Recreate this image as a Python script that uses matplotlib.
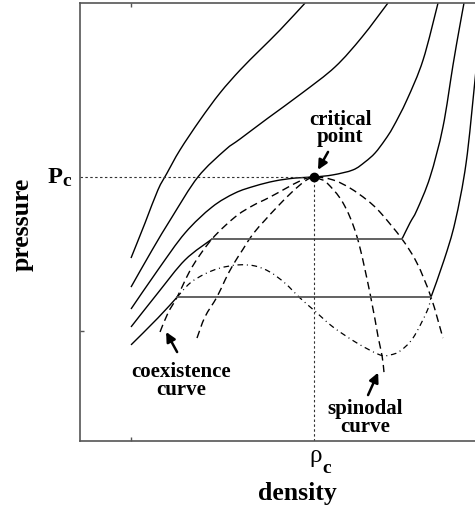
import matplotlib
matplotlib.use("Agg")
import matplotlib.pyplot as plt
from matplotlib.path import Path
from matplotlib.patches import PathPatch

plt.rcParams['font.family'] = ['Liberation Serif', 'DejaVu Serif']

# Reduced units: density / rho_c and pressure / P_c
RHO_C = 1.0
P_C = 1.0

# Supercritical isotherms (highest temperature first)
t1_rho = [0.218, 0.278, 0.333, 0.372, 0.427, 0.513, 0.598, 0.684, 0.769, 0.855, 0.962]
t1_p = [0.693, 0.826, 0.951, 1.015, 1.102, 1.216, 1.318, 1.405, 1.481, 1.557, 1.659]

t2_rho = [0.218, 0.308, 0.393, 0.504, 0.620, 0.684, 0.803, 0.949, 1.090, 1.205, 1.316]
t2_p = [0.583, 0.723, 0.848, 1.000, 1.102, 1.144, 1.223, 1.318, 1.417, 1.530, 1.659]

# Critical isotherm
tc_rho = [0.218, 0.333, 0.449, 0.564, 0.662, 0.748, 0.833, 0.919, 1.000, 1.081,
          1.167, 1.218, 1.261, 1.303, 1.338, 1.397, 1.466, 1.530]
tc_p = [0.500, 0.648, 0.788, 0.886, 0.939, 0.966, 0.985, 0.996, 1.000, 1.008,
        1.027, 1.057, 1.091, 1.140, 1.189, 1.292, 1.443, 1.659]

# Subcritical isotherm 1: gas branch, tie line, liquid branch
t4_gas_rho = [0.218, 0.333, 0.449, 0.564]
t4_gas_p = [0.432, 0.561, 0.686, 0.765]
t4_liq_rho = [1.376, 1.410, 1.440, 1.496, 1.551, 1.594, 1.620, 1.641]
t4_liq_p = [0.765, 0.826, 0.875, 1.000, 1.189, 1.424, 1.557, 1.659]
t4_tie_rho = [0.564, 1.376]
t4_tie_p = [0.765, 0.765]

# Subcritical isotherm 2
t5_gas_rho = [0.218, 0.333, 0.415]
t5_gas_p = [0.364, 0.466, 0.545]
t5_liq_rho = [1.500, 1.556, 1.603, 1.650, 1.688, 1.705]
t5_liq_p = [0.545, 0.686, 0.830, 1.053, 1.367, 1.519]
t5_tie_rho = [0.415, 1.500]
t5_tie_p = [0.545, 0.545]

# Van der Waals loop of subcritical isotherm 2
loop_rho = [0.415, 0.470, 0.534, 0.598, 0.675, 0.748, 0.812, 0.876, 0.940, 1.004,
            1.081, 1.184, 1.282, 1.325, 1.368, 1.423, 1.483, 1.500]
loop_p = [0.545, 0.598, 0.633, 0.655, 0.667, 0.663, 0.640, 0.598, 0.542, 0.492,
          0.432, 0.371, 0.326, 0.326, 0.341, 0.390, 0.492, 0.545]

# Coexistence curve
coex_rho = [0.342, 0.376, 0.415, 0.479, 0.564, 0.662, 0.735, 0.812, 0.940, 1.000,
            1.081, 1.154, 1.226, 1.282, 1.376, 1.440, 1.500, 1.551]
coex_p = [0.413, 0.485, 0.545, 0.659, 0.765, 0.848, 0.890, 0.924, 0.985, 1.000,
          0.989, 0.958, 0.913, 0.867, 0.765, 0.674, 0.545, 0.390]

# Spinodal curve
spin_rho = [0.500, 0.534, 0.585, 0.620, 0.654, 0.697, 0.739, 0.791, 0.842, 0.906,
            0.962, 1.000, 1.026, 1.056, 1.124, 1.184, 1.239, 1.274, 1.291, 1.299]
spin_p = [0.390, 0.470, 0.545, 0.610, 0.667, 0.727, 0.784, 0.837, 0.886, 0.943,
          0.985, 1.000, 0.992, 0.977, 0.902, 0.773, 0.561, 0.394, 0.322, 0.261]


def smooth_path(xs, ys):
    """Catmull-Rom curve through the given points, as cubic Bezier segments."""
    pts = list(zip(xs, ys))
    n = len(pts)
    verts = [pts[0]]
    codes = [Path.MOVETO]
    for i in range(n - 1):
        p0 = pts[i - 1] if i > 0 else pts[i]
        p1 = pts[i]
        p2 = pts[i + 1]
        p3 = pts[i + 2] if i + 2 < n else pts[i + 1]
        c1 = (p1[0] + (p2[0] - p0[0]) / 6, p1[1] + (p2[1] - p0[1]) / 6)
        c2 = (p2[0] - (p3[0] - p1[0]) / 6, p2[1] - (p3[1] - p1[1]) / 6)
        verts += [c1, c2, p2]
        codes += [Path.CURVE4] * 3
    return Path(verts, codes)


def curve(ax, xs, ys, **kw):
    ax.add_patch(PathPatch(smooth_path(xs, ys), fill=False, capstyle='butt', **kw))


fig = plt.figure(figsize=(4.75, 5.09), dpi=100)
ax = fig.add_axes([80 / 475, 68 / 509, 400 / 475, 438 / 509])
ax.set_xlim(0, 1.7094)
ax.set_ylim(0, 1.6591)

for r, p in [(t1_rho, t1_p), (t2_rho, t2_p), (tc_rho, tc_p),
             (t4_gas_rho, t4_gas_p), (t4_liq_rho, t4_liq_p),
             (t5_gas_rho, t5_gas_p), (t5_liq_rho, t5_liq_p)]:
    curve(ax, r, p, edgecolor='black', lw=1.0)

for r, p in [(t4_tie_rho, t4_tie_p), (t5_tie_rho, t5_tie_p)]:
    ax.plot(r, p, color='#555555', lw=1.3)

curve(ax, loop_rho, loop_p, edgecolor='black', lw=0.9,
      linestyle=(0, (4.5, 3.0, 0.8, 3.0)))
curve(ax, coex_rho, coex_p, edgecolor='black', lw=1.0, linestyle=(0, (5.5, 3.2)))
curve(ax, spin_rho, spin_p, edgecolor='black', lw=1.0, linestyle=(0, (5.5, 3.2)))

# Critical pressure and density guides
ax.plot([0, RHO_C], [P_C, P_C], color='#333333', lw=0.8, dashes=(2.2, 2.2))
ax.plot([RHO_C, RHO_C], [0, P_C], color='#333333', lw=0.8, dashes=(2.2, 2.2))
ax.plot([RHO_C], [P_C], 'o', color='black', ms=6, zorder=5)

for side in ['left', 'top', 'bottom']:
    ax.spines[side].set_color('#555555')
    ax.spines[side].set_linewidth(1.2)
ax.spines['right'].set_visible(False)
ax.set_xticks([0.218])
ax.set_yticks([0.415])
ax.set_xticklabels([])
ax.set_yticklabels([])
ax.tick_params(direction='in', length=3, width=1, color='#555555', top=True)

bold = dict(fontweight='bold', color='black')

# Axis labels and critical values
ax.text(-0.045, 0.589, 'P', ha='right', va='baseline', fontsize=17.5,
        transform=ax.transAxes, **bold)
ax.text(-0.044, 0.582, 'c', ha='left', va='baseline', fontsize=14,
        transform=ax.transAxes, **bold)
ax.text(0.5725, -0.048, 'ρ', ha='left', va='baseline', fontsize=18,
        transform=ax.transAxes, color='black')
ax.text(0.605, -0.073, 'c', ha='left', va='baseline', fontsize=14,
        transform=ax.transAxes, **bold)
ax.text(0.5425, -0.1347, 'density', ha='center', va='baseline', fontsize=18.5,
        transform=ax.transAxes, **bold)
ax.text(-0.145, 0.4954, 'pressure', ha='center', va='center', rotation=90,
        fontsize=18.5, transform=ax.transAxes, **bold)

# Annotations
ax.text(1.112, 1.133, 'critical\npoint', ha='center', va='baseline',
        multialignment='center', linespacing=0.82, fontsize=15, **bold)
ax.text(0.432, 0.174, 'coexistence\ncurve', ha='center', va='baseline',
        multialignment='center', linespacing=0.85, fontsize=15, **bold)
ax.text(1.22, 0.034, 'spinodal\ncurve', ha='center', va='baseline',
        multialignment='center', linespacing=0.85, fontsize=15, **bold)

arrow = dict(arrowstyle='-|>', lw=1.8, color='black', mutation_scale=14,
             shrinkA=0, shrinkB=0)
ax.annotate('', xy=(1.017, 1.027), xytext=(1.060, 1.095), arrowprops=arrow)
ax.annotate('', xy=(0.368, 0.413), xytext=(0.415, 0.337), arrowprops=arrow)
ax.annotate('', xy=(1.274, 0.259), xytext=(1.231, 0.174), arrowprops=arrow)

fig.savefig('out.png', dpi=100)
